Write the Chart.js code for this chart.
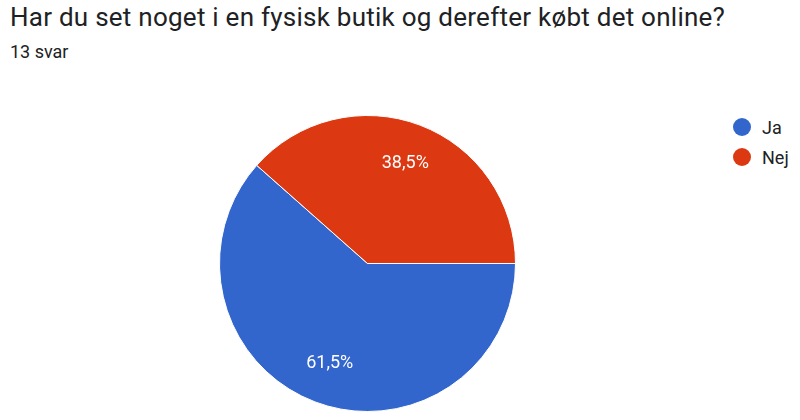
<!DOCTYPE html>
<html lang="da">
<head>
<meta charset="utf-8">
<script src="https://cdn.jsdelivr.net/npm/chart.js@4"></script>
<style>
  body { margin: 0; background: #fff; font-family: Roboto, "Noto Sans", sans-serif; }
  #wrap { position: relative; width: 800px; height: 420px; overflow: hidden; }
  #titel { position: absolute; left: 10px; top: 2px; font-size: 26px; letter-spacing: 0.25px; color: #202124; white-space: nowrap; }
  #svar { position: absolute; left: 10px; top: 41px; font-size: 18px; color: #202124; }
  #pieBox { position: absolute; left: 219px; top: 115px; width: 297px; height: 297px; }
  #legende { position: absolute; left: 733px; top: 112px; font-size: 18px; color: #202124; }
  .item { height: 30px; display: flex; align-items: center; }
  .dot { width: 18px; height: 18px; border-radius: 50%; margin-right: 11px; }
</style>
</head>
<body>
<div id="wrap">
  <div id="titel">Har du set noget i en fysisk butik og derefter købt det online?</div>
  <div id="svar">13 svar</div>
  <div id="pieBox"><canvas id="myChart"></canvas></div>
  <div id="legende"></div>
</div>
<script>
"use strict"
// Daten
const kategorien = ['Ja', 'Nej'];
const antal = [8, 5]; // 13 svar
const farben = ['#3366cc', '#dc3912'];

// Legende (HTML)
let text = "";
for (let i = 0; i < kategorien.length; i++) {
    text += '<div class="item"><span class="dot" style="background:' + farben[i] + '"></span>' + kategorien[i] + '</div>';
}
document.getElementById("legende").innerHTML = text;

// Prozent-Beschriftung in den Stücken
const prozentPlugin = {
    id: 'prozent',
    afterDatasetsDraw(chart) {
        const ctx = chart.ctx;
        const meta = chart.getDatasetMeta(0);
        const summe = antal.reduce((a, b) => a + b, 0);
        ctx.save();
        ctx.fillStyle = '#ffffff';
        ctx.font = '18px Roboto, "Noto Sans", sans-serif';
        ctx.textAlign = 'center';
        ctx.textBaseline = 'middle';
        meta.data.forEach(function (arc, i) {
            const mitte = (arc.startAngle + arc.endAngle) / 2;
            const r = arc.outerRadius * 0.72;
            const x = arc.x + Math.cos(mitte) * r;
            const y = arc.y + Math.sin(mitte) * r;
            const p = (antal[i] / summe * 100).toFixed(1).replace('.', ',') + '%';
            ctx.fillText(p, x, y);
        });
        ctx.restore();
    }
};

const config = {
    type: 'pie',
    data: {
        labels: kategorien,
        datasets: [{
            data: antal,
            backgroundColor: farben,
            borderColor: '#ffffff',
            borderWidth: 1
        }]
    },
    options: {
        responsive: true,
        maintainAspectRatio: false,
        animation: false,
        rotation: 90, // Start bei 3 Uhr
        plugins: {
            legend: { display: false },
            tooltip: { enabled: false }
        }
    },
    plugins: [prozentPlugin]
};

new Chart(document.getElementById('myChart'), config);
</script>
</body>
</html>
